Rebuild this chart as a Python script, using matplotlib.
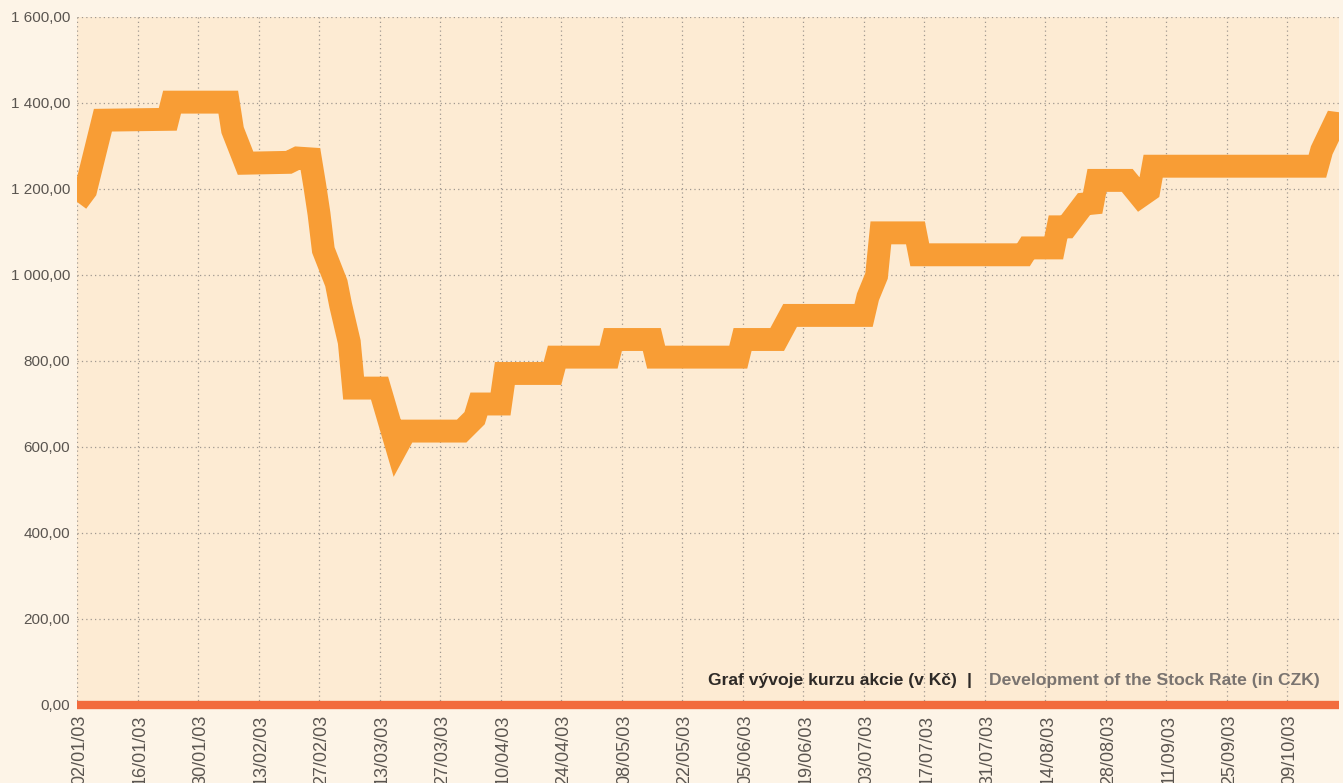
"""Stock rate development chart (Kč), 2003."""

import matplotlib
matplotlib.use("Agg")
import matplotlib.dates as mdates
import matplotlib.ticker as mticker
import numpy as np
from matplotlib import pyplot as plt
from matplotlib.transforms import ScaledTranslation

# Closing rate (date, CZK)
dates = [
    "2003-01-02", "2003-01-04", "2003-01-08", "2003-01-23", "2003-01-24",
    "2003-02-06", "2003-02-07", "2003-02-10", "2003-02-20", "2003-02-22",
    "2003-02-25", "2003-02-26", "2003-02-27", "2003-02-28", "2003-03-03",
    "2003-03-04", "2003-03-06", "2003-03-07", "2003-03-13", "2003-03-17",
    "2003-03-19", "2003-04-01", "2003-04-04", "2003-04-05", "2003-04-10",
    "2003-04-11", "2003-04-22", "2003-04-23", "2003-05-05", "2003-05-06",
    "2003-05-15", "2003-05-16", "2003-06-04", "2003-06-05", "2003-06-13",
    "2003-06-16", "2003-07-03", "2003-07-04", "2003-07-06", "2003-07-07",
    "2003-07-15", "2003-07-16", "2003-08-09", "2003-08-10", "2003-08-16",
    "2003-08-17", "2003-08-19", "2003-08-23", "2003-08-25", "2003-08-26",
    "2003-09-02", "2003-09-05", "2003-09-07", "2003-09-08", "2003-10-16",
    "2003-10-17", "2003-10-20", "2003-10-23",
]
rate = [
    1170, 1197, 1360, 1362, 1402,
    1402, 1337, 1260, 1262, 1272,
    1270, 1209, 1142, 1058, 981,
    930, 844, 737, 737, 600,
    637, 637, 667, 700, 700,
    771, 771, 809, 809, 850,
    850, 809, 809, 850, 850,
    906, 906, 949, 998, 1098,
    1098, 1047, 1047, 1063, 1063,
    1112, 1112, 1165, 1167, 1220,
    1220, 1183, 1197, 1253, 1253,
    1290, 1353, 1349,
]

tick_start = "2003-01-02"
tick_end = "2003-10-09"
x_end = "2003-10-21"
y_ticks = [0, 200, 400, 600, 800, 1000, 1200, 1400, 1600]

title_cz = "Graf vývoje kurzu akcie (v Kč)"
title_en = "Development of the Stock Rate (in CZK)"

FIG_BG = "#fdf4e7"
AX_BG = "#fdebd3"
LINE = "#f89d35"
BASE = "#f26b3d"

x = mdates.datestr2num(dates)

fig = plt.figure(figsize=(13.43, 7.83), dpi=100, facecolor=FIG_BG)
ax = fig.add_axes([77 / 1343, 78 / 783, (1339 - 77) / 1343, (705 - 17) / 783])
ax.set_facecolor(AX_BG)

ax.plot(x, rate, color=LINE, lw=16.5, solid_joinstyle="miter",
        solid_capstyle="butt", zorder=3)

ax.set_xlim(mdates.datestr2num(tick_start), mdates.datestr2num(x_end))
ax.set_ylim(0, 1600)

# ticks every 14 days
ticks = np.arange(mdates.datestr2num(tick_start), mdates.datestr2num(tick_end) + 1, 14)
ax.set_xticks(ticks)
ax.xaxis.set_major_formatter(mdates.DateFormatter("%d/%m/%y"))
ax.set_yticks(y_ticks)
ax.yaxis.set_major_formatter(mticker.FuncFormatter(
    lambda v, p: f"{v:,.2f}".replace(",", " ").replace(".", ",")))

ax.tick_params(axis="both", length=0, labelcolor="#5a5550",
               labelfontfamily="Liberation Sans")
ax.tick_params(axis="x", pad=7, labelsize=13)
ax.tick_params(axis="y", pad=5, labelsize=11)

for lab in ax.get_xticklabels():
    lab.set_rotation(90)
    lab.set_va("top")
    lab.set_ha("center")
    lab.set_transform(lab.get_transform() + ScaledTranslation(3 / 100, 0, fig.dpi_scale_trans))

ax.grid(True, color="#a09890", linestyle=(0, (1, 2.5)), linewidth=0.9, zorder=1)
ax.set_axisbelow(True)
for s in ax.spines.values():
    s.set_visible(False)

# baseline at zero
ax.axhline(0, color=BASE, lw=6, zorder=4, clip_on=False, solid_capstyle="butt")

# caption
fam = ["Liberation Sans Narrow", "Liberation Sans", "DejaVu Sans"]
cap_y = 1 - 681 / 783
fig.text(708 / 1343, cap_y, title_cz, fontsize=12.6, fontweight="bold",
         color="#2e2a27", family=fam, va="center", ha="left")
fig.text(969 / 1343, cap_y, "|", fontsize=12.6, fontweight="bold",
         color="#2e2a27", family=fam, va="center", ha="center")
fig.text(1320 / 1343, cap_y, title_en, fontsize=12.6, fontweight="bold",
         color="#7a7470", family=fam, va="center", ha="right")

fig.savefig("out.png", dpi=100, facecolor=FIG_BG)
